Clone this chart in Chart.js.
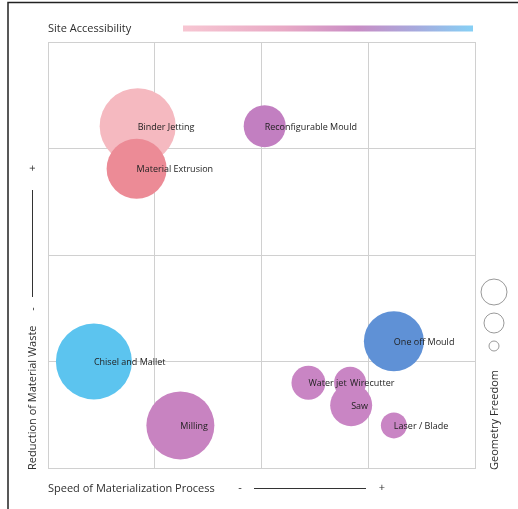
<!DOCTYPE html>
<html>
<head>
<meta charset="utf-8">
<script src="https://cdn.jsdelivr.net/npm/chart.js@4"></script>
<style>
  html, body { margin: 0; padding: 0; background: #fff; }
  #wrap { position: relative; width: 518px; height: 509px; }
</style>
</head>
<body>
<div id="wrap"><canvas id="bubble-chart"></canvas></div>
<script>
// ------------------------------------------------------
// @Data
// ------------------------------------------------------
const processes = ['Binder Jetting', 'Material Extrusion', 'Reconfigurable Mould', 'Chisel and Mallet',
  'Milling', 'One off Mould', 'Water jet', 'Wirecutter', 'Saw', 'Laser / Blade'];
const speed = [0.84, 0.83, 2.03, 0.43, 1.24, 3.24, 2.44, 2.83, 2.84, 3.24];            // x
const wasteReduction = [3.21, 2.81, 3.21, 1.0, 0.40, 1.19, 0.80, 0.80, 0.59, 0.40];   // y
const geometryFreedom = [38, 30, 21, 38, 34, 30, 17, 16, 21, 13];                     // bubble radius
const bubbleColors = ['#f5b9c0', '#ec8b96', '#c27fc1', '#5cc4ef', '#c883c1',
  '#5f91d6', '#c985c4', '#c985c4', '#c985c4', '#c985c4'];
const gridTicks = [0, 1, 2, 3, 4];

const FONT = '"Open Sans", "Noto Sans", sans-serif';

// labels + decorations drawn on the canvas
const decorPlugin = {
  id: 'decor',
  afterDatasetsDraw(chart) {
    const ctx = chart.ctx;
    const meta = chart.getDatasetMeta(0);
    ctx.save();
    ctx.fillStyle = '#222';
    ctx.font = '9px ' + FONT;
    ctx.textAlign = 'left';
    ctx.textBaseline = 'middle';
    meta.data.forEach((pt, i) => {
      ctx.fillText(processes[i], pt.x, pt.y + 1);
    });
    ctx.restore();
  },
  afterDraw(chart) {
    const ctx = chart.ctx;
    const area = chart.chartArea;
    ctx.save();

    // frame
    ctx.strokeStyle = '#222';
    ctx.lineWidth = 1.5;
    ctx.beginPath();
    ctx.moveTo(8, 509);
    ctx.lineTo(8, 2.5);
    ctx.lineTo(518, 2.5);
    ctx.stroke();

    ctx.fillStyle = '#2e2e2e';
    ctx.font = '11px ' + FONT;
    ctx.textBaseline = 'middle';
    ctx.textAlign = 'left';

    // top: Site Accessibility + gradient
    ctx.fillText('Site Accessibility', area.left, 29);
    const g = ctx.createLinearGradient(183, 0, 473, 0);
    g.addColorStop(0, '#f7c6d2');
    g.addColorStop(0.35, '#e8a9c5');
    g.addColorStop(0.6, '#c98dc5');
    g.addColorStop(0.8, '#a7a9dd');
    g.addColorStop(1, '#86d0f5');
    ctx.fillStyle = g;
    ctx.fillRect(183, 25.5, 290, 6);

    // bottom axis label
    ctx.fillStyle = '#2e2e2e';
    ctx.fillText('Speed of Materialization Process', area.left, 489);
    ctx.textAlign = 'center';
    ctx.fillText('-', 240, 488);
    ctx.fillText('+', 382, 488);
    ctx.strokeStyle = '#333';
    ctx.lineWidth = 1;
    ctx.beginPath();
    ctx.moveTo(254, 488.5);
    ctx.lineTo(366, 488.5);
    ctx.stroke();

    // left axis label
    ctx.save();
    ctx.translate(33, 470);
    ctx.rotate(-Math.PI / 2);
    ctx.textAlign = 'left';
    ctx.fillText('Reduction of Material Waste', 0, 0);
    ctx.restore();
    ctx.save();
    ctx.translate(33, 309);
    ctx.rotate(-Math.PI / 2);
    ctx.textAlign = 'center';
    ctx.fillText('-', 0, 0);
    ctx.restore();
    ctx.save();
    ctx.translate(33, 168);
    ctx.rotate(-Math.PI / 2);
    ctx.textAlign = 'center';
    ctx.fillText('+', 0, 0);
    ctx.restore();
    ctx.beginPath();
    ctx.moveTo(32.5, 297);
    ctx.lineTo(32.5, 190);
    ctx.stroke();

    // right: Geometry Freedom legend
    ctx.strokeStyle = '#999';
    ctx.lineWidth = 1;
    [[292, 13], [323, 10], [346, 5]].forEach(([cy, r]) => {
      ctx.beginPath();
      ctx.arc(494, cy, r, 0, Math.PI * 2);
      ctx.stroke();
    });
    ctx.save();
    ctx.translate(495, 470);
    ctx.rotate(-Math.PI / 2);
    ctx.textAlign = 'left';
    ctx.fillText('Geometry Freedom', 0, 0);
    ctx.restore();

    ctx.restore();
  },
};

const bubbleBox = document.getElementById('bubble-chart');

new Chart(bubbleBox.getContext('2d'), {
  type: 'bubble',
  data: {
    labels: processes,
    datasets: [{
      data            : processes.map((p, i) => ({ x: speed[i], y: wasteReduction[i], r: geometryFreedom[i] })),
      backgroundColor : bubbleColors,
      borderWidth     : 0,
      clip            : false,
    }],
  },
  options: {
    responsive          : true,
    maintainAspectRatio : false,
    animation           : false,
    events              : [],
    layout: {
      padding: { left: 48, right: 43, top: 42, bottom: 41 },
    },
    plugins: {
      legend  : { display: false },
      tooltip : { enabled: false },
    },
    scales: {
      x: {
        min: gridTicks[0],
        max: gridTicks[gridTicks.length - 1],
        ticks  : { display: false, stepSize: 1 },
        grid   : { color: '#d0d0d0', drawTicks: false },
        border : { color: '#d0d0d0' },
      },
      y: {
        min: gridTicks[0],
        max: gridTicks[gridTicks.length - 1],
        ticks  : { display: false, stepSize: 1 },
        grid   : { color: '#d0d0d0', drawTicks: false },
        border : { color: '#d0d0d0' },
      },
    },
  },
  plugins: [decorPlugin],
});
</script>
</body>
</html>
